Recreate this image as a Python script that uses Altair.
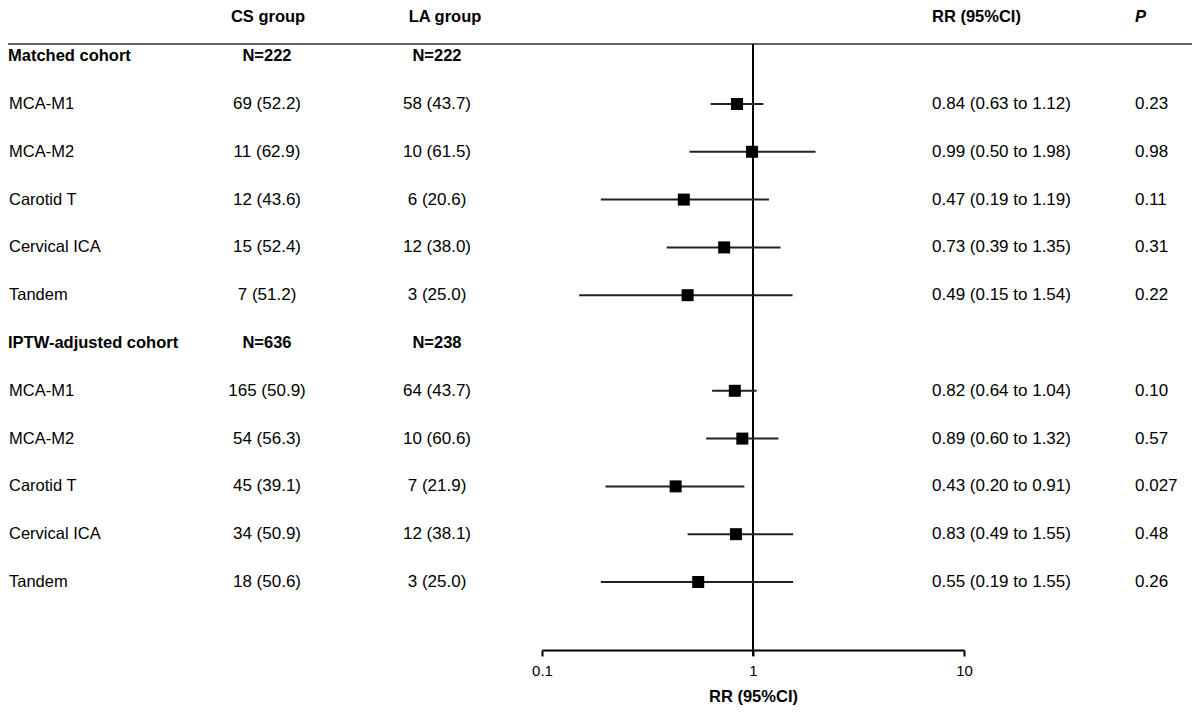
import altair as alt
import pandas as pd

# ---------------- data ----------------
cohorts = ["Matched cohort", "IPTW-adjusted cohort"]
cs_n = ["N=222", "N=636"]
la_n = ["N=222", "N=238"]
subgroups = ["MCA-M1", "MCA-M2", "Carotid T", "Cervical ICA", "Tandem"]

cs_events = ["69 (52.2)", "11 (62.9)", "12 (43.6)", "15 (52.4)", "7 (51.2)",
             "165 (50.9)", "54 (56.3)", "45 (39.1)", "34 (50.9)", "18 (50.6)"]
la_events = ["58 (43.7)", "10 (61.5)", "6 (20.6)", "12 (38.0)", "3 (25.0)",
             "64 (43.7)", "10 (60.6)", "7 (21.9)", "12 (38.1)", "3 (25.0)"]
rr = [0.84, 0.99, 0.47, 0.73, 0.49, 0.82, 0.89, 0.43, 0.83, 0.55]
lo = [0.63, 0.50, 0.19, 0.39, 0.15, 0.64, 0.60, 0.20, 0.49, 0.19]
hi = [1.12, 1.98, 1.19, 1.35, 1.54, 1.04, 1.32, 0.91, 1.55, 1.55]
pvals = ["0.23", "0.98", "0.11", "0.31", "0.22", "0.10", "0.57", "0.027", "0.48", "0.26"]

# ---------------- tables ----------------
rows = []
for c in range(len(cohorts)):
    for i, s in enumerate(subgroups):
        k = c * len(subgroups) + i
        rows.append(dict(
            r=c * 6 + 1 + i, label=s, cs=cs_events[k], la=la_events[k],
            rr=rr[k], lo=lo[k], hi=hi[k],
            rrtxt=f"{rr[k]:.2f} ({lo[k]:.2f} to {hi[k]:.2f})", p=pvals[k]))
df = pd.DataFrame(rows)
hdf = pd.DataFrame(dict(r=[0, 6], label=cohorts, cs=cs_n, la=la_n))
refdf = pd.DataFrame(dict(ref=[1.0]))

FONT = "Liberation Sans"
FS = 16.5
FSN = 17
W, H = 1184, 638
TOP = 4

xscale = alt.Scale(type="log", domain=[0.1, 10], range=[534, 956], nice=False)
yscale = alt.Scale(domain=[-0.9247, 12.423], range=[0, H], zero=False, nice=False)
xax = alt.Axis(values=[0.1, 1, 10], format="~g", grid=False,
               domainColor="black", domainWidth=2, tickColor="black", tickWidth=2,
               tickSize=6, labelFont=FONT, labelFontSize=15, labelColor="black",
               labelPadding=7, labelFlush=False, title="RR (95%CI)", titleFont=FONT,
               titleFontSize=16.5, titleFontWeight="bold", titleColor="black",
               titlePadding=10)
Y = alt.Y("r:Q", scale=yscale, axis=None)

base = alt.Chart(df)
hbase = alt.Chart(hdf)

hline = alt.Chart(refdf).mark_rule(color="#333333", strokeWidth=1.5).encode(
    x=alt.value(-8), x2=alt.value(W), y=alt.value(32))
vline = alt.Chart(refdf).mark_rule(color="black", strokeWidth=2).encode(
    x=alt.X("ref:Q", scale=xscale, axis=xax), y=alt.value(32), y2=alt.value(H + 6))
ci = base.mark_rule(color="#222222", strokeWidth=2).encode(
    x=alt.X("lo:Q", scale=xscale, axis=xax), x2="hi:Q", y=Y)
sq = base.mark_square(size=144, color="black", opacity=1).encode(
    x=alt.X("rr:Q", scale=xscale, axis=xax), y=Y)


def txt(chart, field, x, align="left", weight="normal", style="normal", fs=FS):
    return chart.mark_text(align=align, baseline="middle", font=FONT, fontSize=fs,
                           fontWeight=weight, fontStyle=style, color="black").encode(
        x=alt.value(x), y=Y, text=f"{field}:N")


layers = [
    hline, vline, ci, sq,
    txt(base, "label", 1),
    txt(base, "cs", 259, "center", fs=FSN),
    txt(base, "la", 429, "center", fs=FSN),
    txt(base, "rrtxt", 924, fs=FSN),
    txt(base, "p", 1127, fs=FSN),
    txt(hbase, "label", 0, weight="bold"),
    txt(hbase, "cs", 259, "center", weight="bold"),
    txt(hbase, "la", 429, "center", weight="bold"),
]

heads = pd.DataFrame(dict(t=["CS group", "LA group", "RR (95%CI)", "P"]))


def head(t, x, align, style="normal"):
    return alt.Chart(heads[heads.t == t]).mark_text(
        align=align, baseline="middle", font=FONT, fontSize=FS, fontWeight="bold",
        fontStyle=style, color="black").encode(x=alt.value(x), y=alt.value(5), text="t:N")


col_heads = [
    head("CS group", 260, "center"),
    head("LA group", 437, "center"),
    head("RR (95%CI)", 924, "left"),
    head("P", 1127, "left", "italic"),
]

chart = alt.layer(*layers, *col_heads).properties(
    width=W, height=H,
    autosize=alt.AutoSizeParams(type="none"),
    padding={"left": 0, "top": TOP, "right": 0, "bottom": 56},
    background="white",
).configure_view(strokeWidth=0, stroke="transparent")

chart.save("out.html", embed_options={"renderer": "svg", "actions": False})
